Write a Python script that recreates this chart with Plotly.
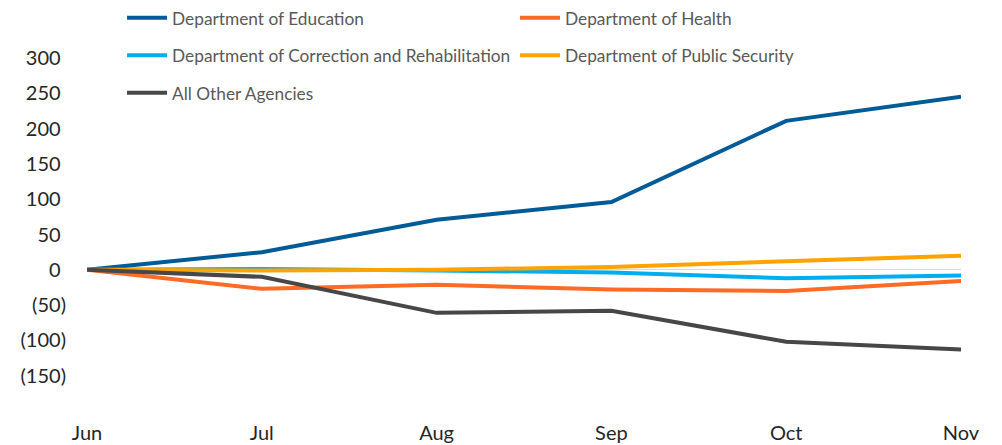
import plotly.graph_objects as go

months = ["Jun", "Jul", "Aug", "Sep", "Oct", "Nov"]
education = [0, 25, 71, 96, 211, 245]
health = [0, -27, -21, -28, -30, -16]
correction = [0, 1, -1, -4, -12, -8]
public_security = [0, -1, 0, 4, 12, 20]
other = [0, -10, -61, -58, -102, -113]

tick_vals = [300, 250, 200, 150, 100, 50, 0, -50, -100, -150]

def fmt(v):
    if v < 0:
        return f"({abs(v)})"
    return f"{v}<span style='color:rgba(0,0,0,0)'>)</span>"

tick_text = [fmt(v) for v in tick_vals]

series = [
    ("Department of Education", education, "#005B96", "legend"),
    ("Department of Health", health, "#FF6B24", "legend2"),
    ("Department of Correction and Rehabilitation", correction, "#00AEEF", "legend"),
    ("Department of Public Security", public_security, "#FFA300", "legend2"),
    ("All Other Agencies", other, "#474747", "legend"),
]

fig = go.Figure()
for i, (name, vals, color, leg) in enumerate(series):
    fig.add_trace(go.Scatter(
        x=months, y=vals, name=name, mode="lines",
        line=dict(color=color, width=4),
        legend=leg, legendgroup=f"g{i}",
    ))

legend_common = dict(
    orientation="v",
    xanchor="left", yanchor="top", bgcolor="rgba(0,0,0,0)",
    font=dict(family="Lato", size=17.3, color="#595959"),
    tracegroupgap=12, itemwidth=40, traceorder="grouped",
)

fig.update_layout(
    width=1002, height=445,
    margin=dict(l=79, r=49, t=50, b=42, autoexpand=False),
    plot_bgcolor="white", paper_bgcolor="white",
    font=dict(family="Lato", color="#262626"),
    showlegend=True,
    legend=dict(x=0.0401, y=1.164, **legend_common),
    legend2=dict(x=0.4897, y=1.164, **legend_common),
    xaxis=dict(
        type="category", range=[0, 5], showgrid=False, showline=False,
        ticks="", tickfont=dict(family="Lato", size=20, color="#262626"),
        ticklabelstandoff=8,
    ),
    yaxis=dict(
        range=[-200, 300], tickvals=tick_vals, ticktext=tick_text,
        showgrid=False, showline=False, ticks="",
        zeroline=True, zerolinecolor="#D9D9D9", zerolinewidth=1,
        tickfont=dict(family="Lato", size=20, color="#262626"),
        ticklabelstandoff=20,
    ),
)

fig.write_html("out.html")
